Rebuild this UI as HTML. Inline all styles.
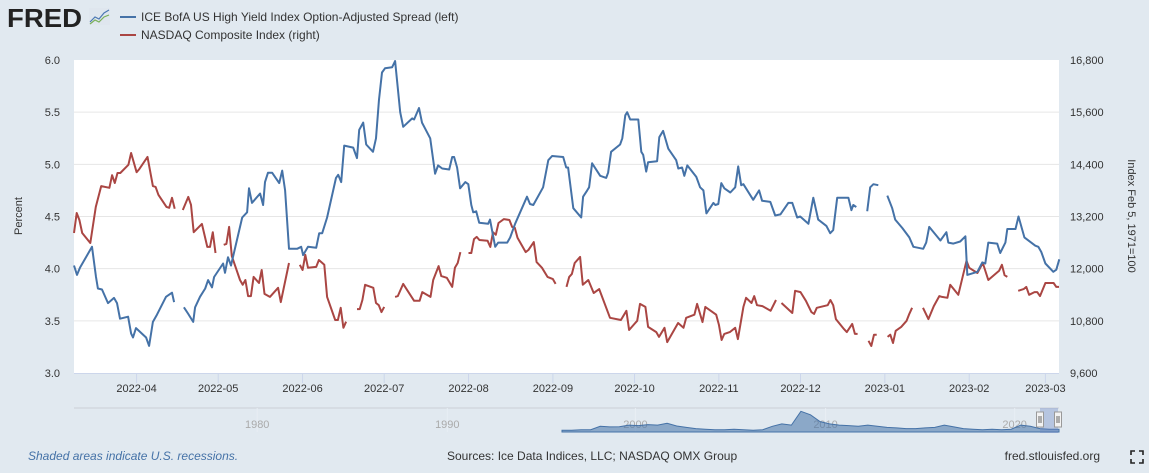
<!DOCTYPE html>
<html><head><meta charset="utf-8">
<style>
body{margin:0;background:#e1e9f0;font-family:"Liberation Sans",sans-serif;}
#wrap{position:relative;width:1149px;height:473px;overflow:hidden;background:#e1e9f0;}
svg text{font-family:"Liberation Sans",sans-serif;}
</style></head>
<body>
<div id="wrap">
<svg id="chart" width="1149" height="473">
  <g>
    <text x="7" y="27" font-size="26" font-weight="bold" fill="#222" textLength="75" lengthAdjust="spacingAndGlyphs">FRED</text>
    <rect x="89" y="8" width="21" height="17" fill="#dfe6ee"/>
    <polyline points="90,22 95,17 99,19 104,13 109,10" fill="none" stroke="#4d79b3" stroke-width="1.2"/>
    <polyline points="90,24 95,20 99,22 104,17 109,15" fill="none" stroke="#7ab05a" stroke-width="1.2"/>
  </g>
  <g>
    <line x1="120" y1="17" x2="136" y2="17" stroke="#4572a7" stroke-width="2"/>
    <text x="141" y="21" font-size="12" fill="#333">ICE BofA US High Yield Index Option-Adjusted Spread (left)</text>
    <line x1="120" y1="35" x2="136" y2="35" stroke="#aa4643" stroke-width="2"/>
    <text x="141" y="39" font-size="12" fill="#333">NASDAQ Composite Index (right)</text>
  </g>
  <rect x="74" y="60" width="985" height="313" fill="#fff"/>
  <g id="grid"></g>
  <g id="xaxis"></g>
  <g id="series"></g>
  <text x="0" y="0" font-size="11" fill="#333" transform="translate(22,216) rotate(-90)" text-anchor="middle">Percent</text>
  <text x="0" y="0" font-size="11" fill="#333" transform="translate(1128,216) rotate(90)" text-anchor="middle">Index Feb 5, 1971=100</text>
  <g id="nav"></g>
  <text x="28" y="460" font-size="12" font-style="italic" fill="#4572a7">Shaded areas indicate U.S. recessions.</text>
  <text x="447" y="460" font-size="12" fill="#333">Sources: Ice Data Indices, LLC; NASDAQ OMX Group</text>
  <text x="1100" y="460" font-size="12" fill="#333" text-anchor="end">fred.stlouisfed.org</text>
  <g stroke="#222" stroke-width="1.6" fill="none">
    <polyline points="1131,455 1131,451 1135,451"/><polyline points="1139,451 1143,451 1143,455"/>
    <polyline points="1131,459 1131,463 1135,463"/><polyline points="1139,463 1143,463 1143,459"/>
  </g>
</svg>
</div>
<script>
// ---- data (day offsets from 2022-03-09) ----
const spreadDays = [0,1.1,2.2,6.6,8.1,8.8,10.3,12.5,14.7,15.8,16.9,19.9,21,21.7,22.8,26.5,27.6,29,30.5,33.8,36,36.8,38,40.4,41.9,43.8,44.5,46.3,48.2,49.3,50.7,51.5,54.8,55.5,56.6,57.7,61.8,63.6,64.3,65.4,68.4,69.5,70.2,71.3,72.8,75.4,76.5,77.6,79,82,83.5,84.2,86,89,90.1,91.2,93,96.3,97.1,98.2,99.3,102.6,104,104.8,106.3,107.4,109.9,111,112.1,113.2,114.3,116.9,118,119.9,121,124.3,125,126.8,127.9,130.9,132.7,133.8,135.3,137.9,139,139.7,140.8,141.9,143.8,144.9,146,146.7,147.8,148.9,152.2,152.9,154.8,155.9,159.2,160.3,162.1,166.5,167.6,168.8,172.4,174.3,175.7,179.8,180.9,181.6,183.5,186.4,187.1,188.6,189.3,190.4,193.4,195.6,196.3,197.4,200.7,201.5,202.6,203.3,204.4,207.4,208.5,209.2,210.3,211,214.3,215.1,216.5,218.4,221.3,222.1,223.5,224.3,225.4,228.7,230.1,231.3,232.4,235,235.7,236.8,237.9,239,241.2,243,244.1,245.2,246,249.6,251.8,252.9,255.9,257.7,259.6,262.5,264,265.8,266.9,269.9,271.7,273.5,276.5,277.9,279,280.5,284.6,285.7,286.4,287.5,290,291.5,292.6,293.8,295.6,297,298.9,300.7,301.8,304.4,307,308.5,312.1,313.2,314.3,318.4,320.6,321.3,323.2,325.7,327.6,328.3,332,333.8,334.9,336,339.3,340.4,342.3,343,346,347.1,349.3,353.3,354.4,355.5,357,359.9,361,362.1];
const spreadValues = [4.03,3.94,4.01,4.21,3.92,3.81,3.80,3.67,3.72,3.67,3.52,3.54,3.38,3.34,3.43,3.34,3.26,3.49,3.56,3.73,3.77,3.68,null,3.63,3.57,3.49,3.63,3.73,3.81,3.89,3.82,3.92,4.05,3.96,4.11,4.03,4.49,4.54,4.77,4.63,4.72,4.61,4.83,4.92,4.92,4.82,4.94,4.75,4.19,4.19,4.21,4.13,4.21,4.20,4.34,4.34,4.49,4.87,4.90,4.83,5.18,5.16,5.06,5.33,5.40,5.19,5.12,5.25,5.62,5.88,5.92,5.93,5.99,5.50,5.36,5.44,5.43,5.54,5.40,5.25,4.91,4.99,4.96,4.95,5.07,5.07,4.97,4.77,4.83,4.81,4.61,4.54,4.55,4.44,4.43,4.47,4.21,4.25,4.25,4.30,4.43,4.69,4.62,4.61,4.78,5.04,5.08,5.07,4.97,4.97,4.58,4.49,4.69,4.75,4.78,5.01,4.89,4.87,4.92,5.12,5.19,5.25,5.47,5.50,5.43,5.43,5.12,5.09,4.93,5.02,5.03,5.26,5.32,5.15,5.04,4.96,4.97,4.89,4.99,4.88,4.78,4.75,4.53,4.63,4.61,4.62,4.82,4.77,4.73,4.78,4.98,4.80,4.81,4.66,4.75,4.65,4.64,4.51,4.52,4.63,4.63,4.49,4.50,4.43,4.68,4.47,4.41,4.34,4.37,4.68,4.68,4.56,4.61,4.59,null,4.55,4.78,4.81,4.80,null,4.70,4.58,4.47,4.39,4.30,4.21,4.19,4.25,4.40,4.27,4.35,4.25,4.24,4.26,4.31,3.94,3.97,4.06,4.05,4.25,4.24,4.15,4.25,4.38,4.38,4.50,4.30,4.22,4.21,4.16,4.05,3.97,3.99,4.09];
const nasdaqDays = [0,1,2,3,6,8,10,13,14,15,16,17,20,21,23,24,27,29,30,31,34,35,36,37,38,40,42,43,44,47,49,50,51,52,53,55,56,57,58,61,62,63,64,65,66,68,69,70,72,75,76,79,81,83,84,85,86,89,90,92,93,96,97,98,99,100,102,104,105,106,107,110,111,112,113,114,116,118,119,121,125,127,128,131,132,134,135,137,139,140,141,142,144,145,146,147,148,149,152,153,154,155,156,158,160,161,162,163,166,167,169,170,172,174,176,177,179,181,182,183,184,186,187,189,191,193,197,201,203,204,207,208,210,211,214,215,217,218,222,224,225,228,229,231,232,236,237,238,239,241,243,244,246,247,249,250,251,253,256,258,259,260,264,265,267,269,271,272,273,277,278,279,280,283,284,286,287,288,290,292,293,294,295,297,299,300,301,302,304,306,307,308,310,312,314,316,318,319,321,322,325,328,329,332,334,336,340,341,342,343,345,347,349,350,351,353,354,355,357,360,361,362];
const nasdaqValues = [12820,13280,13120,12820,12590,13420,13900,13860,14150,13970,14200,14200,14390,14660,14220,14290,14570,13900,13880,13700,13420,13400,13630,13380,null,13350,13650,13470,12840,13030,12500,12500,12840,12360,null,12550,12570,12960,12290,11740,11630,11740,11370,11370,11810,11670,11970,11420,11350,11560,11230,12130,null,12090,11970,12320,12020,12040,12200,12090,11350,10820,10820,11100,10640,10780,null,11070,11070,11280,11630,11560,11210,11160,11000,11120,null,11350,11370,11650,11260,11260,11460,11350,11740,12060,11830,11790,11580,12020,12130,12380,null,12360,12360,12680,12730,12660,12640,12500,12840,12780,13050,13140,13120,12960,12940,12710,12380,12430,12610,12150,12020,11810,11760,11650,null,11580,11810,11880,12130,12270,11630,11740,11440,11530,10870,10820,11030,10590,10800,11190,11120,10660,10540,10430,10640,10310,10750,10640,10870,10940,11190,10770,11120,10940,10710,10360,10500,10540,10640,10380,11120,11330,11210,11370,11160,11140,11030,11280,null,11210,10980,11490,11460,11260,11000,10960,11100,11160,11280,11160,10840,10610,10540,10730,10500,10500,null,10340,10220,10480,10480,null,10430,10480,10290,10570,10660,10800,10960,11100,null,11100,10840,11140,11370,11350,11330,11630,11400,12180,12020,11900,12130,11740,11950,12090,11850,11810,null,11490,11530,11580,11400,11460,11460,11370,11670,11670,11580,11580];
const leftTicks = [3.0,3.5,4.0,4.5,5.0,5.5,6.0];
const rightTicks = [9600,10800,12000,13200,14400,15600,16800];
const navYears = [1980,1990,2000,2010,2020];
const navYearPos = [0.186,0.379,0.57,0.763,0.955];
const navShape = [0.08,0.08,0.1,0.1,0.25,0.22,0.23,0.3,0.28,0.32,0.3,0.38,0.26,0.2,0.15,0.12,0.1,0.1,0.12,0.1,0.08,0.1,0.25,0.35,0.3,0.9,0.75,0.45,0.35,0.3,0.28,0.25,0.3,0.25,0.2,0.18,0.15,0.15,0.18,0.2,0.3,0.22,0.15,0.12,0.1,0.12,0.1,0.12,0.3,0.25,0.15,0.12,0.12];

const NS="http://www.w3.org/2000/svg";
const X0=74,X1=1059,Y0=60,Y1=373,DMAX=362;
const startDate=new Date(Date.UTC(2022,2,9));
function xScale(d){return X0+(d/DMAX)*(X1-X0);}
function yLeft(v){return Y1-(v-3)/3*(Y1-Y0);}
function yRight(v){return Y1-(v-9600)/7200*(Y1-Y0);}
function mk(tag,attrs,parent){const e=document.createElementNS(NS,tag);for(const k in attrs)e.setAttribute(k,attrs[k]);parent.appendChild(e);return e;}

const grid=document.getElementById('grid');
leftTicks.forEach((t,i)=>{
  const y=yLeft(t);
  if(i>0&&i<leftTicks.length-1){const l=mk('line',{x1:X0,x2:X1,y1:y,y2:y,stroke:'#e6e6e6','stroke-width':1},grid);
  
  }
  const tx=mk('text',{x:60,y:y+4,'font-size':11,fill:'#333','text-anchor':'end'},grid);tx.textContent=t.toFixed(1);
  
  
});
rightTicks.forEach(t=>{
  const y=yRight(t);
  const tx=mk('text',{x:1070,y:y+4,'font-size':11,fill:'#333'},grid);tx.textContent=t.toLocaleString('en-US');
  
  
});
const xa=document.getElementById('xaxis');
const al=mk('line',{x1:X0,x2:X1,y1:Y1+0.5,y2:Y1+0.5,stroke:'#ccd6eb'},xa);


for(let m=3;m<=14;m++){
  const dt=new Date(Date.UTC(2022,m,1));
  const d=(dt-startDate)/86400000; if(d>DMAX)break;
  const x=xScale(d);
  const tk=mk('line',{x1:x,x2:x,y1:Y1,y2:Y1+10,stroke:'#ccd6eb'},xa);
  
  
  const tx=mk('text',{x:x,y:Y1+19,'font-size':11,fill:'#333','text-anchor':'middle'},xa);
  tx.textContent=dt.getUTCFullYear()+'-'+String(dt.getUTCMonth()+1).padStart(2,'0');
  
  
}
function drawSeries(days,vals,ys,color,name){
  const g=document.getElementById('series');let d='';let pen=false;
  days.forEach((dd,i)=>{const v=vals[i];if(v===null){pen=false;return;}
    d+=(pen?'L':'M')+xScale(dd).toFixed(1)+','+ys(v).toFixed(1);pen=true;});
  const p=mk('path',{d:d,fill:'none',stroke:color,'stroke-width':2,'stroke-linejoin':'round'},g);
  
  
}
drawSeries(nasdaqDays,nasdaqValues,yRight,'#aa4643','nasdaq-line');
drawSeries(spreadDays,spreadValues,yLeft,'#4572a7','spread-line');

// navigator
const nav=document.getElementById('nav');
const NX0=74,NX1=1059,NYT=408,NYB=432;
const nl=mk('line',{x1:NX0,x2:NX1,y1:NYT,y2:NYT,stroke:'#ccd0d6'},nav);


navYears.forEach((yr,i)=>{const x=NX0+navYearPos[i]*(NX1-NX0);
  const l=mk('line',{x1:x,x2:x,y1:NYT,y2:NYB,stroke:'#e8eef4'},nav);
  
  
  const t=mk('text',{x:x,y:428,'font-size':11,fill:'#aaa','text-anchor':'middle'},nav);t.textContent=yr;
  
  });
const ax0=562,ax1=1059;let pd='M'+ax0+','+NYB;
navShape.forEach((v,i)=>{const x=ax0+i/(navShape.length-1)*(ax1-ax0);pd+='L'+x.toFixed(1)+','+(NYB-v*23).toFixed(1);});
pd+='L'+ax1+','+NYB+'Z';
const area=mk('path',{d:pd,fill:'rgba(69,114,167,0.55)',stroke:'#4572a7','stroke-width':1},nav);


const sel=mk('rect',{x:1040,y:NYT,width:18,height:NYB-NYT+1,fill:'rgba(102,133,194,0.35)'},nav);


[1040,1058].forEach((hx,i)=>{const h=mk('rect',{x:hx-3.5,y:412,width:7,height:15,fill:'#f2f2f2',stroke:'#999'},nav);
  
  
  mk('line',{x1:hx-1,x2:hx-1,y1:416,y2:423,stroke:'#666'},nav);mk('line',{x1:hx+1,x2:hx+1,y1:416,y2:423,stroke:'#666'},nav);});
</script>
</body></html>
